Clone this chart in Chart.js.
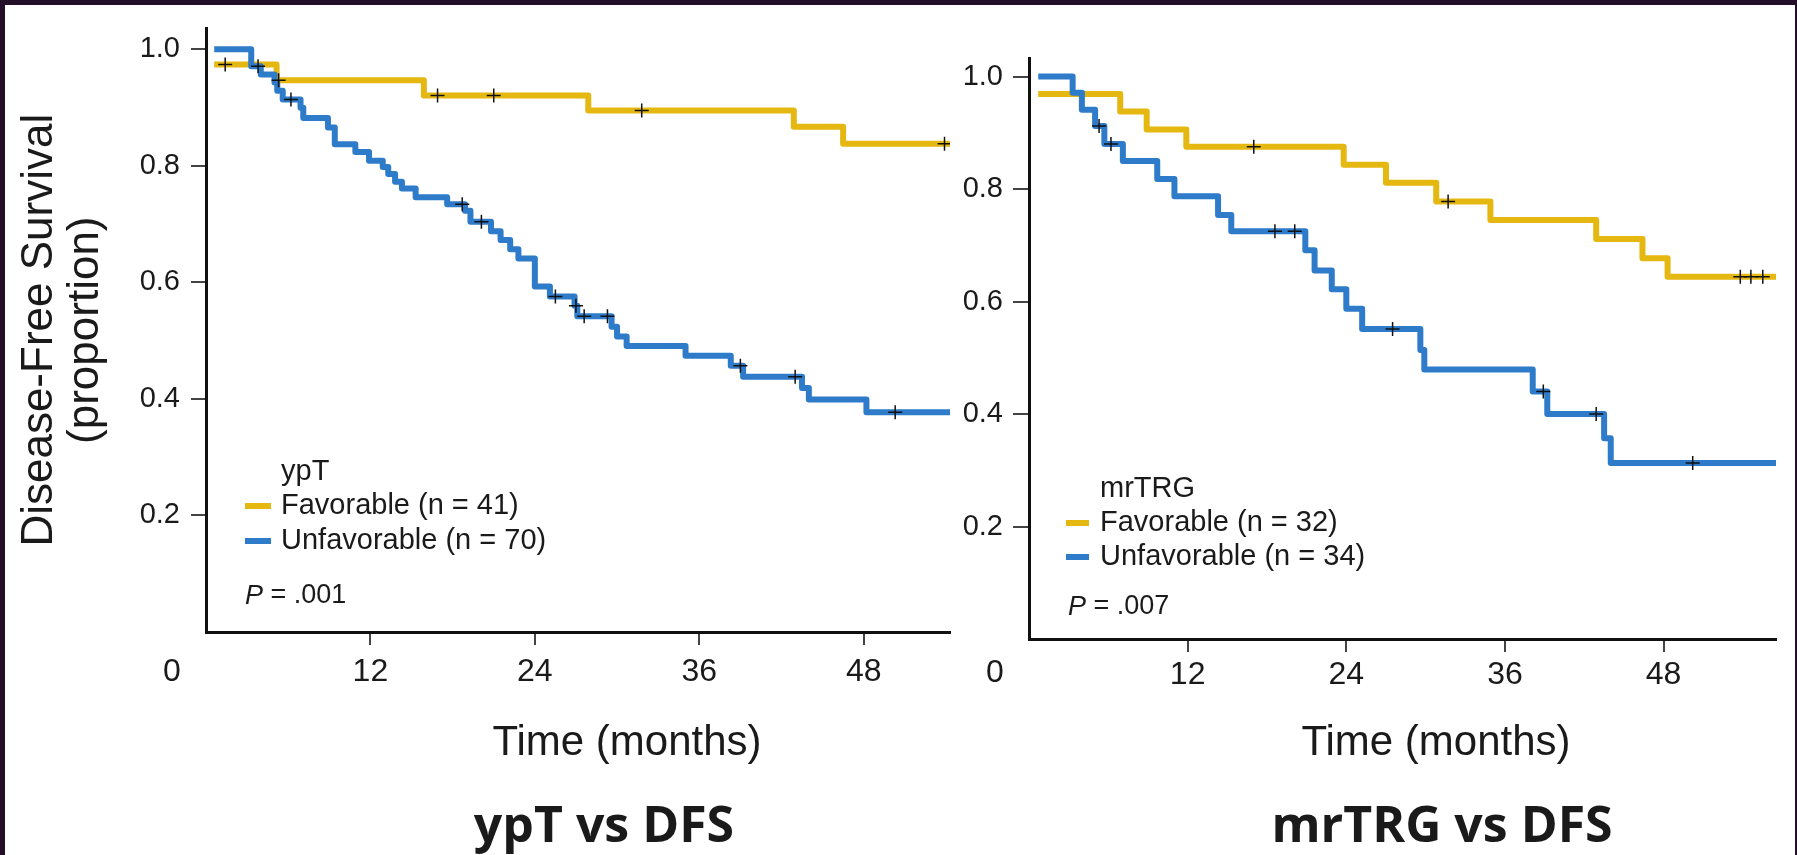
<!DOCTYPE html>
<html>
<head>
<meta charset="utf-8">
<script src="https://cdn.jsdelivr.net/npm/chart.js@4.4.1/dist/chart.umd.min.js"></script>
<style>
  html, body { margin: 0; padding: 0; width: 1797px; height: 855px; overflow: hidden; background: #231028; }
  #sheet { position: absolute; left: 5px; top: 5px; right: 2px; bottom: 0; background: #fff; }
  canvas { position: absolute; top: 0; }
  #left { left: 0; }
  #right { left: 955px; }
</style>
</head>
<body>
<div id="sheet"></div>
<canvas id="left" width="980" height="855"></canvas>
<canvas id="right" width="842" height="855"></canvas>
<script>
// Kaplan-Meier curves, DFS by ypT and by mrTRG

// ypT panel
const ypTFavTime = [0.6, 5.15, 15.9, 27.9, 42.9, 46.5, 54.3];
const ypTFavSurv = [0.974, 0.947, 0.921, 0.895, 0.867, 0.838, 0.838];
const ypTFavCensTime = [1.4, 5.3, 16.9, 21.0, 31.8, 53.9];
const ypTFavCensSurv = [0.974, 0.947, 0.921, 0.921, 0.895, 0.838];

const ypTUnfTime = [0.6, 3.3, 4.0, 5.0, 5.2, 5.6, 6.9, 7.1, 8.9, 9.4, 10.9, 11.9, 12.9, 13.3, 13.8, 14.3, 15.3, 17.6, 18.9, 19.3,
  20.8, 21.5, 22.2, 22.8, 24.0, 25.1, 26.9, 27.1, 29.6, 30.0, 30.7, 35.0, 38.3, 39.2, 43.5, 44.0, 48.2, 54.3];
const ypTUnfSurv = [1.0, 0.971, 0.957, 0.943, 0.929, 0.914, 0.900, 0.882, 0.866, 0.837, 0.824, 0.809, 0.798, 0.786, 0.773, 0.761, 0.746, 0.734, 0.723, 0.704,
  0.688, 0.673, 0.657, 0.641, 0.593, 0.576, 0.560, 0.542, 0.524, 0.507, 0.491, 0.474, 0.457, 0.438, 0.419, 0.399, 0.377, 0.377];
const ypTUnfCensTime = [3.8, 6.2, 18.7, 20.1, 25.5, 27.0, 27.6, 29.3, 39.0, 43.0, 50.3];
const ypTUnfCensSurv = [0.971, 0.914, 0.734, 0.704, 0.576, 0.560, 0.542, 0.542, 0.457, 0.438, 0.377];

// mrTRG panel
const trgFavTime = [0.7, 6.9, 8.9, 11.9, 23.8, 27.0, 30.8, 34.9, 42.9, 46.4, 48.3, 56.5];
const trgFavSurv = [0.969, 0.938, 0.906, 0.875, 0.843, 0.811, 0.778, 0.745, 0.711, 0.677, 0.644, 0.644];
const trgFavCensTime = [17.0, 31.7, 53.8, 54.6, 55.5];
const trgFavCensSurv = [0.875, 0.778, 0.644, 0.644, 0.644];

const trgUnfTime = [0.7, 3.3, 4.0, 5.0, 5.7, 7.1, 9.7, 11.0, 14.3, 15.3, 20.9, 21.6, 22.9, 24.0, 25.2, 29.6, 29.9, 38.1, 39.2, 43.5, 44.0, 56.5];
const trgUnfSurv = [1.0, 0.971, 0.941, 0.912, 0.880, 0.850, 0.818, 0.787, 0.754, 0.725, 0.691, 0.655, 0.622, 0.587, 0.551, 0.514, 0.479, 0.440, 0.400, 0.357, 0.313, 0.313];
const trgUnfCensTime = [5.3, 6.2, 18.6, 20.1, 27.5, 38.9, 42.9, 50.2];
const trgUnfCensSurv = [0.912, 0.880, 0.725, 0.725, 0.551, 0.440, 0.400, 0.313];

const GOLD = '#e5b711';
const BLUE = '#2e7bca';
const INK = '#1a1a1a';
const FONT = '"Liberation Sans", Arial, sans-serif';

const pts = (t, s) => t.map((v, i) => ({ x: v, y: s[i] }));

// legend, p value, origin label and titles
const kmText = {
  id: 'kmText',
  afterDraw(chart, args, o) {
    const ctx = chart.ctx;
    ctx.save();
    ctx.fillStyle = INK;
    ctx.textBaseline = 'middle';

    ctx.font = '32px ' + FONT;
    ctx.textAlign = 'center';
    ctx.fillText('0', o.origin[0], o.origin[1]);

    ctx.textAlign = 'left';
    ctx.font = '29px ' + FONT;
    ctx.fillText(o.group, o.textX, o.groupY);
    o.rows.forEach((r, i) => {
      ctx.fillStyle = r.color;
      ctx.fillRect(o.swatch[0], o.rowY[i] - 3, o.swatch[1], 6);
      ctx.fillStyle = INK;
      ctx.fillText(r.text, o.textX, o.rowY[i]);
    });

    ctx.font = 'italic 27px ' + FONT;
    ctx.fillText('P', o.p[0], o.p[1]);
    const w = ctx.measureText('P').width;
    ctx.font = '27px ' + FONT;
    ctx.fillText(' = ' + o.pValue, o.p[0] + w, o.p[1]);

    ctx.textAlign = 'center';
    ctx.font = '42px ' + FONT;
    ctx.fillText('Time (months)', o.xTitle[0], o.xTitle[1]);

    ctx.font = 'bold 50px "Open Sans", sans-serif';
    ctx.fillText(o.title, o.titlePos[0], o.titlePos[1]);
    ctx.restore();
  }
};

function kmChart(id, c) {
  const hideZero = (ctx) => ctx.tick && ctx.tick.value === 0 ? 'rgba(0,0,0,0)' : '#444';
  new Chart(document.getElementById(id), {
    type: 'line',
    data: {
      datasets: [
        { type: 'scatter', data: pts(c.favCensT, c.favCensS), pointStyle: 'cross', pointRadius: 7, borderColor: '#111', borderWidth: 1.5 },
        { type: 'scatter', data: pts(c.unfCensT, c.unfCensS), pointStyle: 'cross', pointRadius: 7, borderColor: '#111', borderWidth: 1.5 },
        { label: 'Unfavorable', data: pts(c.unfT, c.unfS), borderColor: BLUE, borderWidth: 6, stepped: 'before', pointRadius: 0, borderJoinStyle: 'round', fill: false },
        { label: 'Favorable', data: pts(c.favT, c.favS), borderColor: GOLD, borderWidth: 6, stepped: 'before', pointRadius: 0, borderJoinStyle: 'round', fill: false }
      ]
    },
    plugins: [kmText],
    options: {
      responsive: false,
      animation: false,
      events: [],
      layout: { padding: { top: c.top, right: c.right, left: 0, bottom: 0 } },
      plugins: {
        legend: { display: false },
        tooltip: { enabled: false },
        kmText: c.text
      },
      scales: {
        x: {
          type: 'linear',
          min: 0,
          max: c.xMax,
          afterFit: (s) => { s.height = c.xAxisH; },
          border: { display: true, color: '#111', width: 3 },
          grid: { drawOnChartArea: false, tickLength: 13, lineWidth: 2, color: hideZero },
          ticks: {
            stepSize: 12, includeBounds: false, padding: c.xPad, color: INK, maxRotation: 0, autoSkip: false,
            font: { family: FONT, size: 32 },
            callback: (v) => v === 0 ? '' : v
          }
        },
        y: {
          min: 0,
          max: c.yMax,
          afterFit: (s) => { s.width = c.yAxisW; },
          border: { display: true, color: '#111', width: 3 },
          grid: { drawOnChartArea: false, tickLength: c.yTick, lineWidth: 2, color: hideZero },
          ticks: {
            stepSize: 0.2, includeBounds: false, padding: c.yPad, color: INK,
            font: { family: FONT, size: 29 },
            callback: (v) => v === 0 ? '' : v.toFixed(1)
          },
          title: {
            display: !!c.yTitle,
            text: c.yTitle || '',
            color: INK,
            font: { family: FONT, size: 44, lineHeight: '46px' },
            padding: { top: 17, bottom: 0 }
          }
        }
      }
    }
  });
}

kmChart('left', {
  favT: ypTFavTime, favS: ypTFavSurv, favCensT: ypTFavCensTime, favCensS: ypTFavCensSurv,
  unfT: ypTUnfTime, unfS: ypTUnfSurv, unfCensT: ypTUnfCensTime, unfCensS: ypTUnfCensSurv,
  xMax: 54.3, yMax: 1.036, top: 8, right: 30, xAxisH: 223, yAxisW: 206, yTick: 15, yPad: 11, xPad: 8,
  yTitle: ['Disease-Free Survival', '(proportion)'],
  text: {
    origin: [172, 672], group: 'ypT', groupY: 472, textX: 281, swatch: [245, 26], rowY: [506, 541],
    rows: [{ color: GOLD, text: 'Favorable (n = 41)' }, { color: BLUE, text: 'Unfavorable (n = 70)' }],
    p: [245, 596], pValue: '.001', xTitle: [627, 743], title: 'ypT vs DFS', titlePos: [604, 828]
  }
});

kmChart('right', {
  favT: trgFavTime, favS: trgFavSurv, favCensT: trgFavCensTime, favCensS: trgFavCensSurv,
  unfT: trgUnfTime, unfS: trgUnfSurv, unfCensT: trgUnfCensTime, unfCensS: trgUnfCensSurv,
  xMax: 56.5, yMax: 1.033, top: 58, right: 21, xAxisH: 216, yAxisW: 74, yTick: 16, yPad: 10, xPad: 4,
  yTitle: null,
  text: {
    origin: [40, 673], group: 'mrTRG', groupY: 489, textX: 145, swatch: [111, 23], rowY: [523, 557],
    rows: [{ color: GOLD, text: 'Favorable (n = 32)' }, { color: BLUE, text: 'Unfavorable (n = 34)' }],
    p: [113, 607], pValue: '.007', xTitle: [481, 743], title: 'mrTRG vs DFS', titlePos: [487, 828]
  }
});
</script>
</body>
</html>
